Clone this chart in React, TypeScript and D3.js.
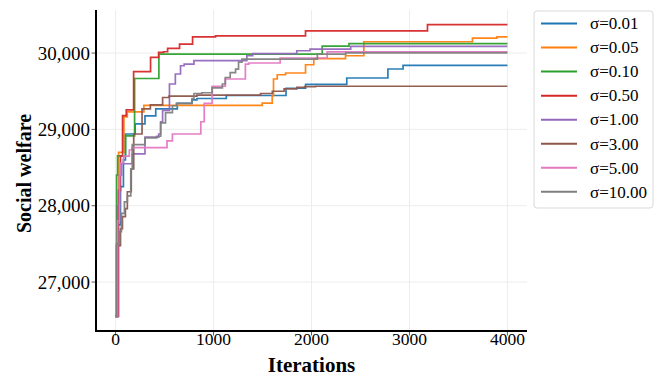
import * as d3 from 'd3'

// each series: [iteration, best social welfare so far]
const sigma001: [number, number][] = [
  [0, 26550], [25, 27750], [50, 28250], [80, 28600], [100, 28940], [200, 29072], [300, 29177],
  [410, 29268], [630, 29340], [780, 29386], [830, 29405], [1130, 29444], [1740, 29539],
  [1940, 29590], [2360, 29673], [2780, 29791], [2935, 29840], [4000, 29840],
]
const sigma005: [number, number][] = [
  [0, 26550], [12, 28000], [30, 28700], [85, 29164], [119, 29229], [289, 29314], [1497, 29343],
  [1599, 29442], [1612, 29660], [1650, 29716], [1735, 29739], [1939, 29847], [2023, 29928],
  [2347, 29965], [2534, 30148], [3643, 30197], [3893, 30211], [4000, 30211],
]
const sigma010: [number, number][] = [
  [0, 26550], [10, 28400], [20, 28654], [102, 28915], [194, 29667], [442, 29987], [2109, 30091],
  [2383, 30123], [4000, 30123],
]
const sigma050: [number, number][] = [
  [0, 26550], [30, 28200], [50, 28650], [71, 29180], [109, 29255], [184, 29756], [357, 29944],
  [439, 30009], [490, 30017], [531, 30061], [653, 30118], [786, 30213], [1020, 30226],
  [1939, 30291], [3184, 30373], [4000, 30373],
]
const sigma100: [number, number][] = [
  [0, 26550], [20, 28000], [40, 28400], [60, 28550], [170, 28680], [300, 28898], [440, 28940],
  [460, 29100], [480, 29250], [550, 29595], [610, 29726], [663, 29834], [700, 29856],
  [800, 29900], [1340, 29965], [1400, 29993], [1850, 30030], [1985, 30052], [2400, 30088],
  [4000, 30088],
]
const sigma300: [number, number][] = [
  [0, 26550], [10, 27477], [50, 27700], [70, 27856], [100, 27961], [120, 28183], [160, 28484],
  [185, 28940], [270, 29268], [355, 29320], [480, 29418], [545, 29435], [830, 29450],
  [1480, 29470], [1600, 29500], [1720, 29530], [1850, 29550], [1930, 29560], [2040, 29565],
  [4000, 29565],
]
const sigma500: [number, number][] = [
  [0, 26550], [20, 27800], [40, 28400], [50, 28560], [80, 28650], [140, 28730], [170, 28760],
  [525, 28850], [580, 28940], [870, 29100], [905, 29340], [985, 29565], [1120, 29660],
  [1325, 29856], [1360, 29870], [1680, 29935], [2160, 30015], [4000, 30015],
]
const sigma1000: [number, number][] = [
  [0, 26550], [10, 27504], [40, 27660], [60, 27900], [90, 28050], [120, 28130], [155, 28480],
  [170, 28800], [300, 28890], [420, 28910], [460, 29085], [510, 29220], [580, 29310],
  [620, 29340], [780, 29405], [800, 29470], [880, 29480], [985, 29545], [1090, 29595],
  [1120, 29680], [1170, 29745], [1225, 29790], [1255, 29882], [1290, 29920], [2060, 29987],
  [2350, 30002], [4000, 30002],
]

const seriesNames = ['σ=0.01', 'σ=0.05', 'σ=0.10', 'σ=0.50', 'σ=1.00', 'σ=3.00', 'σ=5.00', 'σ=10.00']
const seriesData = [sigma001, sigma005, sigma010, sigma050, sigma100, sigma300, sigma500, sigma1000]
const colors = ['#1f77b4', '#ff7f0e', '#2ca02c', '#d62728', '#9467bd', '#8c564b', '#e377c2', '#7f7f7f']

const xTicks = [0, 1000, 2000, 3000, 4000]
const yTicks = [27000, 28000, 29000, 30000]

const width = 659
const height = 376
const margin = { top: 10, right: 132, bottom: 45, left: 96 }
const font = '"Liberation Serif", "Times New Roman", serif'

export default function App() {
  const x = d3.scaleLinear().domain([-200, 4200]).range([margin.left, width - margin.right])

  const allY = seriesData.flat().map(d => d[1])
  const [yMin, yMax] = d3.extent(allY) as [number, number]
  const pad = (yMax - yMin) * 0.05
  const y = d3.scaleLinear().domain([yMin - pad, yMax + pad]).range([height - margin.bottom, margin.top])

  const line = d3.line<[number, number]>()
    .x(d => x(d[0]))
    .y(d => y(d[1]))
    .curve(d3.curveStepAfter)

  const x0 = margin.left
  const x1 = width - margin.right
  const y0 = height - margin.bottom
  const y1 = margin.top

  const legendX = 534
  const legendY = 11
  const rowH = 24.05

  return (
    <svg width={width} height={height} style={{ position: 'absolute', left: 0, top: 0, background: 'white' }} fontFamily={font}>
      {/* grid */}
      {xTicks.map(t => (
        <line key={'gx' + t} x1={x(t)} x2={x(t)} y1={y1} y2={y0} stroke="#ededed" strokeWidth={1} />
      ))}
      {yTicks.map(t => (
        <line key={'gy' + t} x1={x0} x2={x1} y1={y(t)} y2={y(t)} stroke="#ededed" strokeWidth={1} />
      ))}

      {/* series */}
      {seriesData.map((s, i) => (
        <path key={seriesNames[i]} d={line(s) ?? ''} fill="none" stroke={colors[i]} strokeWidth={1.7} strokeOpacity={0.95} />
      ))}

      {/* spines */}
      <line x1={x0} x2={x0} y1={y1} y2={y0 + 1} stroke="black" strokeWidth={2} />
      <line x1={x0 - 1} x2={x1} y1={y0} y2={y0} stroke="black" strokeWidth={2} />

      {/* x ticks */}
      {xTicks.map(t => (
        <g key={'xt' + t}>
          <line x1={x(t)} x2={x(t)} y1={y0 + 1} y2={y0 + 4.5} stroke="#333" strokeWidth={0.8} />
          <text x={x(t)} y={y0 + 14} textAnchor="middle" fontSize={17.5}>{t}</text>
        </g>
      ))}
      {/* y ticks */}
      {yTicks.map(t => (
        <g key={'yt' + t}>
          <line x1={x0 - 4.5} x2={x0 - 1} y1={y(t)} y2={y(t)} stroke="#333" strokeWidth={0.8} />
          <text x={x0 - 6} y={y(t)} dy="0.34em" textAnchor="end" fontSize={19}>{d3.format(',')(t)}</text>
        </g>
      ))}

      {/* axis labels */}
      <text x={(x0 + x1) / 2} y={372} textAnchor="middle" fontSize={21} fontWeight="bold">Iterations</text>
      <text transform={`translate(31,${(y0 + y1) / 2 + 3}) rotate(-90)`} textAnchor="middle" fontSize={20} fontWeight="bold">Social welfare</text>

      {/* legend */}
      <rect x={legendX} y={legendY} width={119} height={197} rx={3} fill="white" fillOpacity={0.8} stroke="#d9d9d9" strokeWidth={1} />
      {seriesNames.map((n, i) => (
        <g key={'lg' + n} transform={`translate(${legendX}, ${legendY + 12.5 + i * rowH})`}>
          <line x1={7} x2={43} y1={0} y2={0} stroke={colors[i]} strokeWidth={2} />
          <text x={56} y={0} dy="0.34em" fontSize={17}>{n}</text>
        </g>
      ))}
    </svg>
  )
}
